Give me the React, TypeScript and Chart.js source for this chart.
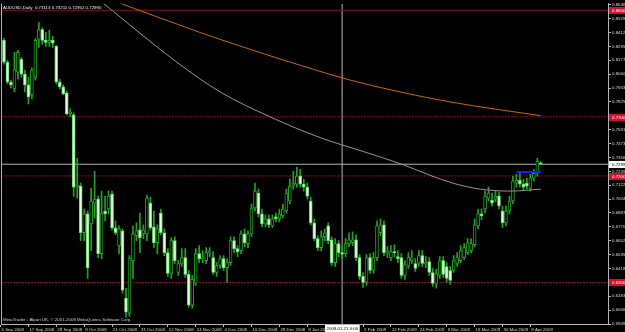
import React, { useEffect, useRef } from "react";
import { Chart, registerables } from "chart.js";
Chart.register(...registerables);

// ---- data (AUDUSD daily, bar index 0 = 5 Sep 2008) ----
const barOpen = [
  0.8077, 0.8346, 0.8161, 0.7994, 0.7935, 0.8077, 0.8186, 0.8060, 0.7969, 0.7885,
  0.8035, 0.8354, 0.8437, 0.8346, 0.8329, 0.8346, 0.8295, 0.7994, 0.7952, 0.7902,
  0.7725, 0.7717, 0.7106, 0.7114, 0.6720, 0.6879, 0.6795, 0.6971, 0.7005, 0.6544,
  0.6904, 0.6921, 0.7047, 0.6762, 0.6611, 0.6737, 0.6167, 0.6041, 0.6485, 0.6695,
  0.6745, 0.6711, 0.6711, 0.6971, 0.6770, 0.6636, 0.6887, 0.6720, 0.6552, 0.6376,
  0.6653, 0.6384, 0.6460, 0.6510, 0.6368, 0.6108, 0.6292, 0.6544, 0.6502, 0.6485,
  0.6552, 0.6510, 0.6384, 0.6443, 0.6502, 0.6426, 0.6468, 0.6653, 0.6586, 0.6569,
  0.6711, 0.6628, 0.6711, 0.6929, 0.7055, 0.6879, 0.6795, 0.6837, 0.6778, 0.6854,
  0.6837, 0.6862, 0.6904, 0.6988, 0.7122, 0.7131, 0.7198, 0.7131, 0.7106, 0.6988,
  0.6803, 0.6670, 0.6594, 0.6686, 0.6778, 0.6661, 0.6468, 0.6628, 0.6552, 0.6544,
  0.6628, 0.6636, 0.6661, 0.6510, 0.6351, 0.6301, 0.6510, 0.6401, 0.6510, 0.6720,
  0.6787, 0.6548, 0.6510, 0.6561, 0.6518, 0.6510, 0.6359, 0.6443, 0.6485, 0.6460,
  0.6460, 0.6527, 0.6456, 0.6477, 0.6384, 0.6292, 0.6359, 0.6485, 0.6435, 0.6401,
  0.6401, 0.6460, 0.6485, 0.6510, 0.6552, 0.6569, 0.6619, 0.6778, 0.6879, 0.6921,
  0.7013, 0.6996, 0.7005, 0.7030, 0.6904, 0.6803, 0.6904, 0.6988, 0.7139, 0.7164,
  0.7131, 0.7139, 0.7097, 0.7181, 0.7223, 0.7311,
];
const barHigh = [
  0.8228, 0.8363, 0.8178, 0.8010, 0.8245, 0.8262, 0.8203, 0.8094, 0.8035, 0.8111,
  0.8363, 0.8496, 0.8454, 0.8413, 0.8430, 0.8379, 0.8304, 0.8019, 0.7969, 0.7918,
  0.7767, 0.7734, 0.7348, 0.7139, 0.6921, 0.6904, 0.7097, 0.7239, 0.7030, 0.7072,
  0.7030, 0.7072, 0.7072, 0.6820, 0.6778, 0.6753, 0.6251, 0.6527, 0.6778, 0.6803,
  0.6887, 0.6787, 0.7038, 0.7022, 0.6904, 0.6787, 0.6921, 0.6753, 0.6586, 0.6678,
  0.6686, 0.6485, 0.6586, 0.6586, 0.6401, 0.6359, 0.6586, 0.6611, 0.6569, 0.6594,
  0.6594, 0.6561, 0.6468, 0.6527, 0.6527, 0.6502, 0.6686, 0.6686, 0.6611, 0.6737,
  0.6753, 0.6737, 0.6963, 0.7139, 0.7089, 0.6921, 0.6871, 0.6871, 0.6871, 0.6887,
  0.6921, 0.6963, 0.7089, 0.7173, 0.7239, 0.7273, 0.7256, 0.7173, 0.7139, 0.7022,
  0.6837, 0.6695, 0.6737, 0.6753, 0.6803, 0.6686, 0.6670, 0.6653, 0.6603, 0.6670,
  0.6720, 0.6728, 0.6703, 0.6535, 0.6384, 0.6535, 0.6544, 0.6552, 0.6820, 0.6837,
  0.6820, 0.6603, 0.6611, 0.6619, 0.6569, 0.6544, 0.6485, 0.6552, 0.6569, 0.6502,
  0.6569, 0.6569, 0.6518, 0.6510, 0.6418, 0.6410, 0.6518, 0.6518, 0.6468, 0.6435,
  0.6527, 0.6552, 0.6611, 0.6628, 0.6670, 0.6670, 0.6837, 0.6921, 0.6921, 0.7072,
  0.7106, 0.7055, 0.7072, 0.7064, 0.6946, 0.6946, 0.7030, 0.7198, 0.7214, 0.7223,
  0.7173, 0.7181, 0.7214, 0.7256, 0.7348, 0.7321,
];
const barLow = [
  0.8035, 0.8144, 0.7977, 0.7944, 0.7910, 0.8018, 0.8035, 0.7910, 0.7809, 0.7851,
  0.8010, 0.8287, 0.8312, 0.8295, 0.8295, 0.8287, 0.7977, 0.7935, 0.7885, 0.7717,
  0.7700, 0.7030, 0.7013, 0.6653, 0.6653, 0.6334, 0.6569, 0.6845, 0.6510, 0.6502,
  0.6820, 0.6879, 0.6745, 0.6703, 0.6544, 0.6209, 0.6007, 0.6016, 0.6334, 0.6653,
  0.6552, 0.6670, 0.6653, 0.6745, 0.6594, 0.6544, 0.6703, 0.6527, 0.6351, 0.6334,
  0.6460, 0.6359, 0.6435, 0.6342, 0.6091, 0.6083, 0.6276, 0.6468, 0.6468, 0.6460,
  0.6518, 0.6368, 0.6351, 0.6418, 0.6401, 0.6301, 0.6443, 0.6552, 0.6518, 0.6544,
  0.6603, 0.6594, 0.6686, 0.6904, 0.6854, 0.6770, 0.6770, 0.6762, 0.6762, 0.6812,
  0.6812, 0.6845, 0.6887, 0.6963, 0.7089, 0.7106, 0.7106, 0.7072, 0.7005, 0.6787,
  0.6653, 0.6569, 0.6569, 0.6653, 0.6628, 0.6443, 0.6435, 0.6518, 0.6502, 0.6518,
  0.6603, 0.6611, 0.6485, 0.6326, 0.6259, 0.6276, 0.6376, 0.6376, 0.6485, 0.6695,
  0.6527, 0.6510, 0.6485, 0.6518, 0.6468, 0.6334, 0.6326, 0.6418, 0.6460, 0.6393,
  0.6435, 0.6435, 0.6426, 0.6359, 0.6267, 0.6251, 0.6334, 0.6342, 0.6301, 0.6284,
  0.6384, 0.6435, 0.6468, 0.6494, 0.6535, 0.6552, 0.6603, 0.6753, 0.6829, 0.6887,
  0.6988, 0.6946, 0.6980, 0.6921, 0.6762, 0.6778, 0.6879, 0.6963, 0.7106, 0.7106,
  0.7080, 0.7089, 0.7072, 0.7156, 0.7198, 0.7295,
];
const barClose = [
  0.8161, 0.8161, 0.7994, 0.7969, 0.8102, 0.8245, 0.8060, 0.7969, 0.7868, 0.8094,
  0.8346, 0.8437, 0.8346, 0.8329, 0.8346, 0.8321, 0.7994, 0.7952, 0.7893, 0.7725,
  0.7742, 0.7106, 0.7122, 0.6720, 0.6879, 0.6426, 0.6988, 0.7005, 0.6544, 0.6887,
  0.6879, 0.7030, 0.6762, 0.6720, 0.6753, 0.6234, 0.6049, 0.6502, 0.6711, 0.6737,
  0.6678, 0.6745, 0.7013, 0.6762, 0.6636, 0.6753, 0.6720, 0.6552, 0.6376, 0.6653,
  0.6485, 0.6460, 0.6510, 0.6368, 0.6108, 0.6326, 0.6544, 0.6502, 0.6510, 0.6552,
  0.6561, 0.6384, 0.6443, 0.6502, 0.6426, 0.6468, 0.6653, 0.6586, 0.6561, 0.6711,
  0.6636, 0.6711, 0.6929, 0.7072, 0.6879, 0.6795, 0.6837, 0.6787, 0.6837, 0.6837,
  0.6879, 0.6921, 0.7055, 0.7114, 0.7139, 0.7198, 0.7131, 0.7106, 0.7030, 0.6803,
  0.6670, 0.6594, 0.6686, 0.6720, 0.6653, 0.6468, 0.6628, 0.6552, 0.6540, 0.6628,
  0.6661, 0.6661, 0.6510, 0.6351, 0.6301, 0.6510, 0.6401, 0.6510, 0.6778, 0.6787,
  0.6552, 0.6561, 0.6561, 0.6552, 0.6502, 0.6359, 0.6452, 0.6510, 0.6510, 0.6418,
  0.6527, 0.6460, 0.6468, 0.6384, 0.6292, 0.6376, 0.6485, 0.6368, 0.6334, 0.6318,
  0.6485, 0.6510, 0.6569, 0.6594, 0.6636, 0.6628, 0.6787, 0.6879, 0.6862, 0.7030,
  0.7055, 0.6971, 0.7030, 0.6946, 0.6803, 0.6904, 0.6988, 0.7156, 0.7164, 0.7131,
  0.7106, 0.7114, 0.7181, 0.7223, 0.7323, 0.7299,
];

// moving averages (bar index, price)
const maOrangeIdx = [28.5, 57.2, 71.6, 85.9, 100.3, 114.6, 128.9, 143.3, 155];
const maOrangeVal = [0.8723, 0.8413, 0.8270, 0.8136, 0.8010, 0.7910, 0.7826, 0.7759, 0.7709];
const maGrayIdx = [26.5, 50.6, 63, 77.3, 91.7, 104, 115.2, 123.2, 129.8, 137.5, 146.2, 155];
const maGrayVal = [0.8731, 0.8161, 0.7910, 0.7700, 0.7524, 0.7407, 0.7298, 0.7206, 0.7139, 0.7089, 0.7072, 0.7089];

// x tick labels (bar index -> date)
const xTickIndex = [0, 8, 16, 24, 32, 40, 48, 56, 64, 72, 80, 88, 104, 112, 120, 128, 136, 144, 152];
const xTickLabels = [
  "5 Sep 2008", "17 Sep 2008", "29 Sep 2008", "9 Oct 2008", "21 Oct 2008", "31 Oct 2008",
  "12 Nov 2008", "24 Nov 2008", "4 Dec 2008", "16 Dec 2008", "29 Dec 2008", "9 Jan 2009",
  "2 Feb 2009", "12 Feb 2009", "24 Feb 2009", "6 Mar 2009", "18 Mar 2009", "30 Mar 2009", "9 Apr 2009",
];
// y tick values (right price scale)
const yTickValues = [
  0.86469, 0.85296, 0.84123, 0.8295, 0.81777, 0.80604, 0.79431, 0.78258, 0.77085, 0.75912,
  0.74739, 0.73566, 0.72393, 0.7122, 0.70047, 0.68874, 0.67701, 0.66528, 0.65355, 0.64182,
  0.63009, 0.61836, 0.60663, 0.5949,
];

const redLevels = [0.86, 0.77, 0.72, 0.63];
const bidPrice = 0.7299;
const blueLevel = 0.7234;
const blueFromIdx = 148;
const blueToIdx = 155;
const crossIdx = 98;
const crossLabel = "2009.01.21 0:00";
const headerText = "AUDUSD,Daily  0.73113 0.73211 0.72952 0.72990";
const footerText = "MetaTrader - Alpari UK, \u00a9 2001-2008 MetaQuotes Software Corp.";

const X_MIN = 0.143;
const X_MAX = 174.27;
const Y_MIN = 0.5949;
const Y_MAX = 0.8656;

const FONT_FAMILY = '"Liberation Sans", Arial, sans-serif';
const FONT_SIZE = 4.4;
const AXIS_COLOR = "#b4b4b4";
const TEXT_COLOR = "#d8d8d8";
const WICK_COLOR = "#22a322";
const BULL_FILL = "#000000";
const BULL_BORDER = "#22a322";
const BEAR_FILL = "#e4fce4";
const BEAR_BORDER = "#6ad86a";
const RED_LINE = "#861226";
const RED_TAG = "#d01030";

const decorPlugin: any = {
  id: "mtDecor",
  beforeDraw(chart: any) {
    const { ctx, width, height } = chart;
    ctx.save();
    ctx.fillStyle = "#000000";
    ctx.fillRect(0, 0, width, height);
    ctx.restore();
  },
  afterDraw(chart: any) {
    const { ctx, chartArea } = chart;
    const ys = chart.scales.y;
    const xs = chart.scales.x;
    ctx.save();
    ctx.strokeStyle = AXIS_COLOR;
    ctx.lineWidth = 1;
    ctx.beginPath();
    ctx.moveTo(chartArea.left + 0.5, chartArea.top);
    ctx.lineTo(chartArea.left + 0.5, chartArea.bottom);
    ctx.stroke();

    ctx.font = `${FONT_SIZE}px ${FONT_FAMILY}`;
    ctx.textBaseline = "middle";
    ctx.textAlign = "left";
    const tags = [
      ...redLevels.map((v) => ({ value: v, bg: RED_TAG, fg: "#ffffff" })),
      { value: bidPrice, bg: "#ffffff", fg: "#000000" },
    ];
    tags.forEach((t) => {
      const py = ys.getPixelForValue(t.value);
      ctx.fillStyle = t.bg;
      ctx.fillRect(chartArea.right + 1, Math.round(py) - 3, chart.width - chartArea.right, 7);
      ctx.fillStyle = t.fg;
      ctx.fillText(t.value.toFixed(5), chartArea.right + 4, Math.round(py) + 0.5);
    });

    const cx = xs.getPixelForValue(crossIdx);
    const w = ctx.measureText(crossLabel).width + 3;
    ctx.fillStyle = "#ffffff";
    ctx.fillRect(Math.round(cx - w / 2), chartArea.bottom + 1, w, 8);
    ctx.fillStyle = "#000000";
    ctx.fillText(crossLabel, Math.round(cx - w / 2) + 1.5, chartArea.bottom + 5);

    ctx.fillStyle = "#eeeeee";
    ctx.fillText(headerText, chartArea.left + 2, chartArea.top + 4);
    ctx.fillStyle = "#cccccc";
    ctx.fillText(footerText, chartArea.left + 2, chartArea.bottom - 4);
    ctx.restore();
  },
};

export default function App() {
  const ref = useRef<HTMLCanvasElement | null>(null);
  useEffect(() => {
    document.body.style.margin = "0";
    document.body.style.background = "#000";
    const canvas = ref.current;
    if (!canvas) return;
    const wicks = barHigh.map((h, i) => ({ x: i, y: [barLow[i], h] }));
    const bodies = barOpen.map((o, i) => ({ x: i, y: [Math.min(o, barClose[i]), Math.max(o, barClose[i])] }));
    const isBull = barOpen.map((o, i) => barClose[i] >= o);

    const hLine = (v: number, color: string, dash: number[], order: number, width = 1) => ({
      type: "line",
      data: [{ x: X_MIN, y: v }, { x: X_MAX, y: v }],
      borderColor: color,
      borderWidth: width,
      borderDash: dash,
      pointRadius: 0,
      order,
    });

    const chart = new Chart(canvas, {
      type: "bar",
      data: {
        datasets: [
          ...redLevels.map((v, k) => hLine(v, RED_LINE, k === 0 ? [] : [2, 1], 6)),
          hLine(bidPrice, AXIS_COLOR, [], 6),
          {
            type: "line",
            data: [{ x: crossIdx, y: Y_MIN }, { x: crossIdx, y: Y_MAX }],
            borderColor: AXIS_COLOR,
            borderWidth: 1,
            pointRadius: 0,
            order: 6,
          },
          {
            type: "bar",
            data: wicks,
            backgroundColor: WICK_COLOR,
            barThickness: 1,
            grouped: false,
            order: 4,
          },
          {
            type: "bar",
            data: bodies,
            backgroundColor: isBull.map((b) => (b ? BULL_FILL : BEAR_FILL)),
            borderColor: isBull.map((b) => (b ? BULL_BORDER : BEAR_BORDER)),
            borderWidth: 1,
            borderSkipped: false,
            barThickness: 3,
            minBarLength: 1,
            grouped: false,
            order: 3,
          },
          {
            type: "line",
            data: maGrayIdx.map((x, i) => ({ x, y: maGrayVal[i] })),
            borderColor: "#9a948e",
            borderWidth: 1,
            pointRadius: 0,
            cubicInterpolationMode: "monotone",
            order: 2,
          },
          {
            type: "line",
            data: maOrangeIdx.map((x, i) => ({ x, y: maOrangeVal[i] })),
            borderColor: "#c86a00",
            borderWidth: 1,
            pointRadius: 0,
            cubicInterpolationMode: "monotone",
            order: 2,
          },
          {
            type: "line",
            data: [{ x: blueFromIdx, y: blueLevel }, { x: blueToIdx, y: blueLevel }],
            borderColor: "#1a1aff",
            borderWidth: 2,
            pointRadius: 0,
            order: 1,
          },
        ] as any,
      },
      options: {
        responsive: false,
        maintainAspectRatio: false,
        animation: false,
        layout: { padding: { left: 1, top: 1, right: 0, bottom: 0 } },
        plugins: { legend: { display: false }, tooltip: { enabled: false } },
        scales: {
          x: {
            type: "linear",
            min: X_MIN,
            max: X_MAX,
            offset: false,
            bounds: "data",
            position: "bottom",
            grid: { display: true, drawOnChartArea: false, drawTicks: true, tickLength: 3, color: AXIS_COLOR, offset: false },
            border: { display: true, color: AXIS_COLOR, width: 1 },
            afterBuildTicks: (s: any) => {
              s.ticks = xTickIndex.map((v) => ({ value: v }));
            },
            afterFit: (s: any) => {
              s.height = 8;
            },
            ticks: {
              autoSkip: false,
              maxRotation: 0,
              minRotation: 0,
              align: "start",
              labelOffset: 1,
              padding: 0,
              color: TEXT_COLOR,
              font: { family: FONT_FAMILY, size: FONT_SIZE },
              callback: (v: any) => {
                const k = xTickIndex.indexOf(Number(v));
                return k >= 0 ? xTickLabels[k] : "";
              },
            },
          },
          y: {
            type: "linear",
            position: "right",
            min: Y_MIN,
            max: Y_MAX,
            bounds: "data",
            grid: { display: true, drawOnChartArea: false, drawTicks: true, tickLength: 3, color: AXIS_COLOR },
            border: { display: true, color: AXIS_COLOR, width: 1 },
            afterBuildTicks: (s: any) => {
              s.ticks = yTickValues.map((v) => ({ value: v }));
            },
            afterFit: (s: any) => {
              s.width = 17;
            },
            ticks: {
              padding: 1,
              color: TEXT_COLOR,
              font: { family: FONT_FAMILY, size: FONT_SIZE },
              callback: (v: any) => Number(v).toFixed(5),
            },
          },
        },
      } as any,
      plugins: [decorPlugin],
    });
    return () => chart.destroy();
  }, []);
  return <canvas ref={ref} width={625} height={332} style={{ display: "block", background: "#000" }} />;
}
